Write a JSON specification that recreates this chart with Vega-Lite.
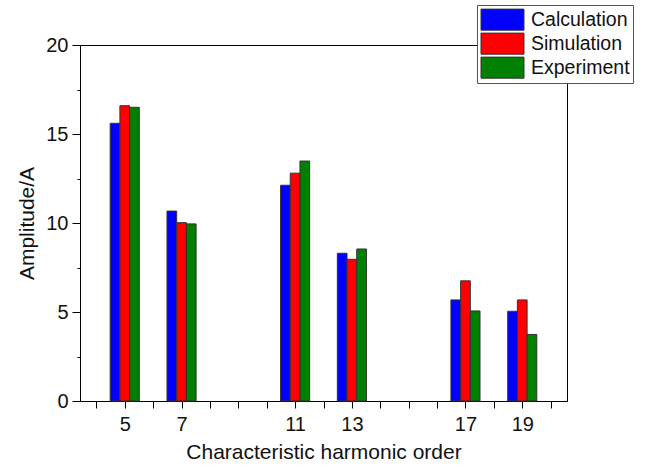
{
  "$schema": "https://vega.github.io/schema/vega-lite/v6.json",
  "width": 487,
  "height": 356,
  "autosize": {"type": "none"},
  "padding": {"left": 80, "top": 45, "right": 78, "bottom": 67},
  "background": "white",
  "config": {
    "font": "Liberation Sans",
    "view": {"stroke": "black", "strokeWidth": 1},
    "axis": {"domainColor": "black", "tickColor": "black", "labelColor": "#111", "titleColor": "#111", "grid": false, "labelFont": "Liberation Sans", "titleFont": "Liberation Sans", "titleFontWeight": "normal"}
  },
  "data": {
    "values": [
      {"order": 5, "series": "Calculation", "value": 15.6},
      {"order": 5, "series": "Simulation", "value": 16.59},
      {"order": 5, "series": "Experiment", "value": 16.5},
      {"order": 7, "series": "Calculation", "value": 10.67},
      {"order": 7, "series": "Simulation", "value": 10.02},
      {"order": 7, "series": "Experiment", "value": 9.95},
      {"order": 11, "series": "Calculation", "value": 12.12},
      {"order": 11, "series": "Simulation", "value": 12.8},
      {"order": 11, "series": "Experiment", "value": 13.48},
      {"order": 13, "series": "Calculation", "value": 8.3},
      {"order": 13, "series": "Simulation", "value": 7.96},
      {"order": 13, "series": "Experiment", "value": 8.54},
      {"order": 17, "series": "Calculation", "value": 5.68},
      {"order": 17, "series": "Simulation", "value": 6.75},
      {"order": 17, "series": "Experiment", "value": 5.06},
      {"order": 19, "series": "Calculation", "value": 5.04},
      {"order": 19, "series": "Simulation", "value": 5.68},
      {"order": 19, "series": "Experiment", "value": 3.74}
    ]
  },
  "encoding": {
    "x": {
      "field": "order", "type": "quantitative",
      "scale": {"domain": [3.6, 20.4], "nice": false, "zero": false},
      "axis": {
        "title": "Characteristic harmonic order",
        "values": [4, 4.5, 5, 5.5, 6, 6.5, 7, 7.5, 8, 8.5, 9, 9.5, 10, 10.5, 11, 11.5, 12, 12.5, 13, 13.5, 14, 14.5, 15, 15.5, 16, 16.5, 17, 17.5, 18, 18.5, 19, 19.5, 20],
        "format": "d",
        "labelExpr": "indexof([5,7,11,13,17,19], datum.value) >= 0 ? datum.label : ''",
        "tickSize": 7,
        "labelPadding": 6,
        "labelFontSize": 20,
        "titleFontSize": 21,
        "titlePadding": 7,
        "labelFlush": false,
        "labelOverlap": false
      }
    },
    "y": {
      "field": "value", "type": "quantitative",
      "scale": {"domain": [0, 20], "nice": false},
      "axis": {
        "title": "Amplitude/A",
        "values": [0, 2.5, 5, 7.5, 10, 12.5, 15, 17.5, 20],
        "labelExpr": "datum.value % 5 === 0 ? datum.label : ''",
        "tickSize": {"condition": {"test": "datum.value % 5 === 0", "value": 8}, "value": 3},
        "labelPadding": 4,
        "labelFontSize": 20,
        "titleFontSize": 21,
        "titlePadding": 8,
        "labelFlush": false,
        "labelOverlap": false
      }
    },
    "color": {
      "field": "series", "type": "nominal",
      "scale": {"domain": ["Calculation", "Simulation", "Experiment"], "range": ["#0000FF", "#FF0000", "#007F00"]},
      "legend": {
        "title": null,
        "orient": "none",
        "legendX": 397,
        "legendY": -40,
        "padding": 3,
        "strokeColor": "#555",
        "fillColor": "white",
        "symbolType": "M-2,-0.98H2V0.98H-2Z",
        "symbolSize": 462,
        "symbolOffset": 11,
        "symbolStrokeColor": "#333",
        "symbolStrokeWidth": 1,
        "symbolOpacity": 1,
        "labelFontSize": 19.5,
        "labelFont": "Liberation Sans",
        "labelColor": "#111",
        "labelOffset": 17,
        "rowPadding": 0,
        "clipHeight": 23.3,
        "labelLimit": 200
      }
    }
  },
  "layer": [
    {
      "transform": [{"filter": "datum.series === 'Calculation'"}],
      "mark": {"type": "bar", "width": 9.7, "xOffset": -9.7, "stroke": "#333", "strokeWidth": 1, "opacity": 1}
    },
    {
      "transform": [{"filter": "datum.series === 'Simulation'"}],
      "mark": {"type": "bar", "width": 9.7, "xOffset": 0, "stroke": "#333", "strokeWidth": 1, "opacity": 1}
    },
    {
      "transform": [{"filter": "datum.series === 'Experiment'"}],
      "mark": {"type": "bar", "width": 9.7, "xOffset": 9.7, "stroke": "#333", "strokeWidth": 1, "opacity": 1}
    }
  ]
}
